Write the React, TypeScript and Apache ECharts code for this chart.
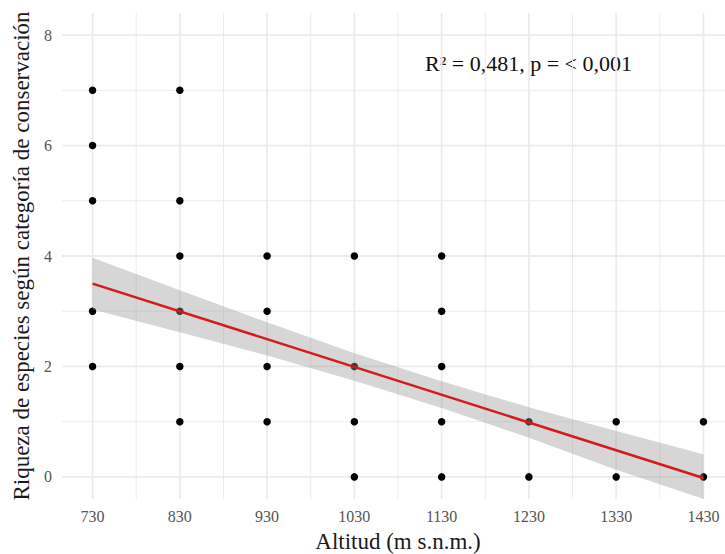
import React, { useEffect, useRef } from "react";
import * as echarts from "echarts";

// Data
const altitudes = [730, 830, 930, 1030, 1130, 1230, 1330, 1430];
const richnessByAltitude: number[][] = [
  [7, 6, 5, 3, 2],
  [7, 5, 4, 3, 2, 1],
  [4, 3, 2, 1],
  [4, 2, 1, 0],
  [4, 3, 2, 1, 0],
  [1, 0],
  [1, 0],
  [1, 0],
];
const fitLine: [number, number][] = [
  [730, 3.5],
  [1430, -0.02],
];
const bandX = [730, 830, 930, 1030, 1130, 1230, 1330, 1430];
const bandLower = [3.03, 2.62, 2.2, 1.74, 1.25, 0.71, 0.13, -0.4];
const bandUpper = [3.97, 3.38, 2.8, 2.24, 1.73, 1.26, 0.83, 0.41];
const xTickLabels = [730, 830, 930, 1030, 1130, 1230, 1330, 1430];
const xMinorGrid = [780, 880, 980, 1080, 1180, 1280, 1380];
const yTickLabels = [0, 2, 4, 6, 8];
const yMinorGrid = [1, 3, 5, 7];
const annotation = "R\u00B2 = 0,481, p = < 0,001";

const X_MIN = 695;
const X_MAX = 1465;
const Y_MIN = -0.4;
const Y_MAX = 8.4;

const SERIF = "'Liberation Serif', 'DejaVu Serif', serif";

function gridLines(values: number[], orient: "h" | "v", width: number) {
  return {
    type: "custom",
    silent: true,
    z: 0,
    data: values.map((v) => (orient === "h" ? [X_MIN, v] : [v, Y_MIN])),
    renderItem: (params: any, api: any) => {
      const cs = params.coordSys;
      const p = api.coord([api.value(0), api.value(1)]);
      if (orient === "h") {
        return {
          type: "line",
          shape: { x1: cs.x, y1: p[1], x2: cs.x + cs.width, y2: p[1] },
          style: { stroke: "#ebebeb", lineWidth: width },
        };
      }
      return {
        type: "line",
        shape: { x1: p[0], y1: cs.y, x2: p[0], y2: cs.y + cs.height },
        style: { stroke: "#ebebeb", lineWidth: width },
      };
    },
  };
}

export default function App() {
  const ref = useRef<HTMLDivElement>(null);

  useEffect(() => {
    if (!ref.current) return;
    const chart = echarts.init(ref.current, null, { renderer: "svg" });

    const points: [number, number][] = [];
    altitudes.forEach((a, i) => {
      richnessByAltitude[i].forEach((v) => points.push([a, v]));
    });

    chart.setOption({
      animation: false,
      backgroundColor: "#ffffff",
      grid: {
        left: 62,
        right: -9,
        top: 13,
        bottom: 55,
        containLabel: false,
        outerBoundsMode: "none",
      },
      xAxis: {
        type: "value",
        min: X_MIN,
        max: X_MAX,
        splitLine: { show: false },
        axisLine: { show: false },
        axisTick: { show: false, customValues: xTickLabels },
        axisLabel: {
          customValues: xTickLabels,
          formatter: (v: number) => String(v),
          color: "#555555",
          fontSize: 16,
          fontFamily: SERIF,
          margin: 9,
        },
        name: "Altitud (m s.n.m.)",
        nameLocation: "middle",
        nameGap: 31,
        nameTextStyle: { color: "#1a1a1a", fontSize: 23, fontFamily: SERIF },
      },
      yAxis: {
        type: "value",
        min: Y_MIN,
        max: Y_MAX,
        splitLine: { show: false },
        axisLine: { show: false },
        axisTick: { show: false, customValues: yTickLabels },
        axisLabel: {
          customValues: yTickLabels,
          formatter: (v: number) => String(v),
          color: "#555555",
          fontSize: 16,
          fontFamily: SERIF,
          margin: 10,
        },
        name: "Riqueza de especies según categoría de conservación",
        nameLocation: "middle",
        nameGap: 27,
        nameTextStyle: { color: "#1a1a1a", fontSize: 23, fontFamily: SERIF },
      },
      graphic: [
        {
          type: "text",
          x: 425,
          y: 63,
          style: {
            text: annotation,
            fill: "#111111",
            font: `22px ${SERIF}`,
            verticalAlign: "middle",
          },
        },
      ],
      series: [
        gridLines(yMinorGrid, "h", 1),
        gridLines(xMinorGrid, "v", 1),
        gridLines(yTickLabels, "h", 1.8),
        gridLines(xTickLabels, "v", 1.8),
        {
          type: "scatter",
          z: 2,
          symbolSize: 7.5,
          itemStyle: { color: "#000000", opacity: 1 },
          data: points,
        },
        {
          type: "custom",
          z: 3,
          silent: true,
          data: bandX.map((x, i) => [x, bandLower[i], bandUpper[i]]),
          encode: { x: 0, y: [1, 2] },
          renderItem: (params: any, api: any) => {
            if (params.dataIndex !== 0) return null;
            const upper = bandX.map((x, i) => api.coord([x, bandUpper[i]]));
            const lower = bandX
              .map((x, i) => api.coord([x, bandLower[i]]))
              .reverse();
            return {
              type: "polygon",
              shape: { points: upper.concat(lower) },
              style: { fill: "rgba(153,153,153,0.4)" },
            };
          },
        },
        {
          type: "line",
          z: 4,
          symbol: "none",
          lineStyle: { color: "#d41a1a", width: 2.5 },
          data: fitLine,
        },
      ],
    });

    return () => chart.dispose();
  }, []);

  return (
    <div
      ref={ref}
      style={{ position: "fixed", left: 0, top: 0, width: 725, height: 554 }}
    />
  );
}
